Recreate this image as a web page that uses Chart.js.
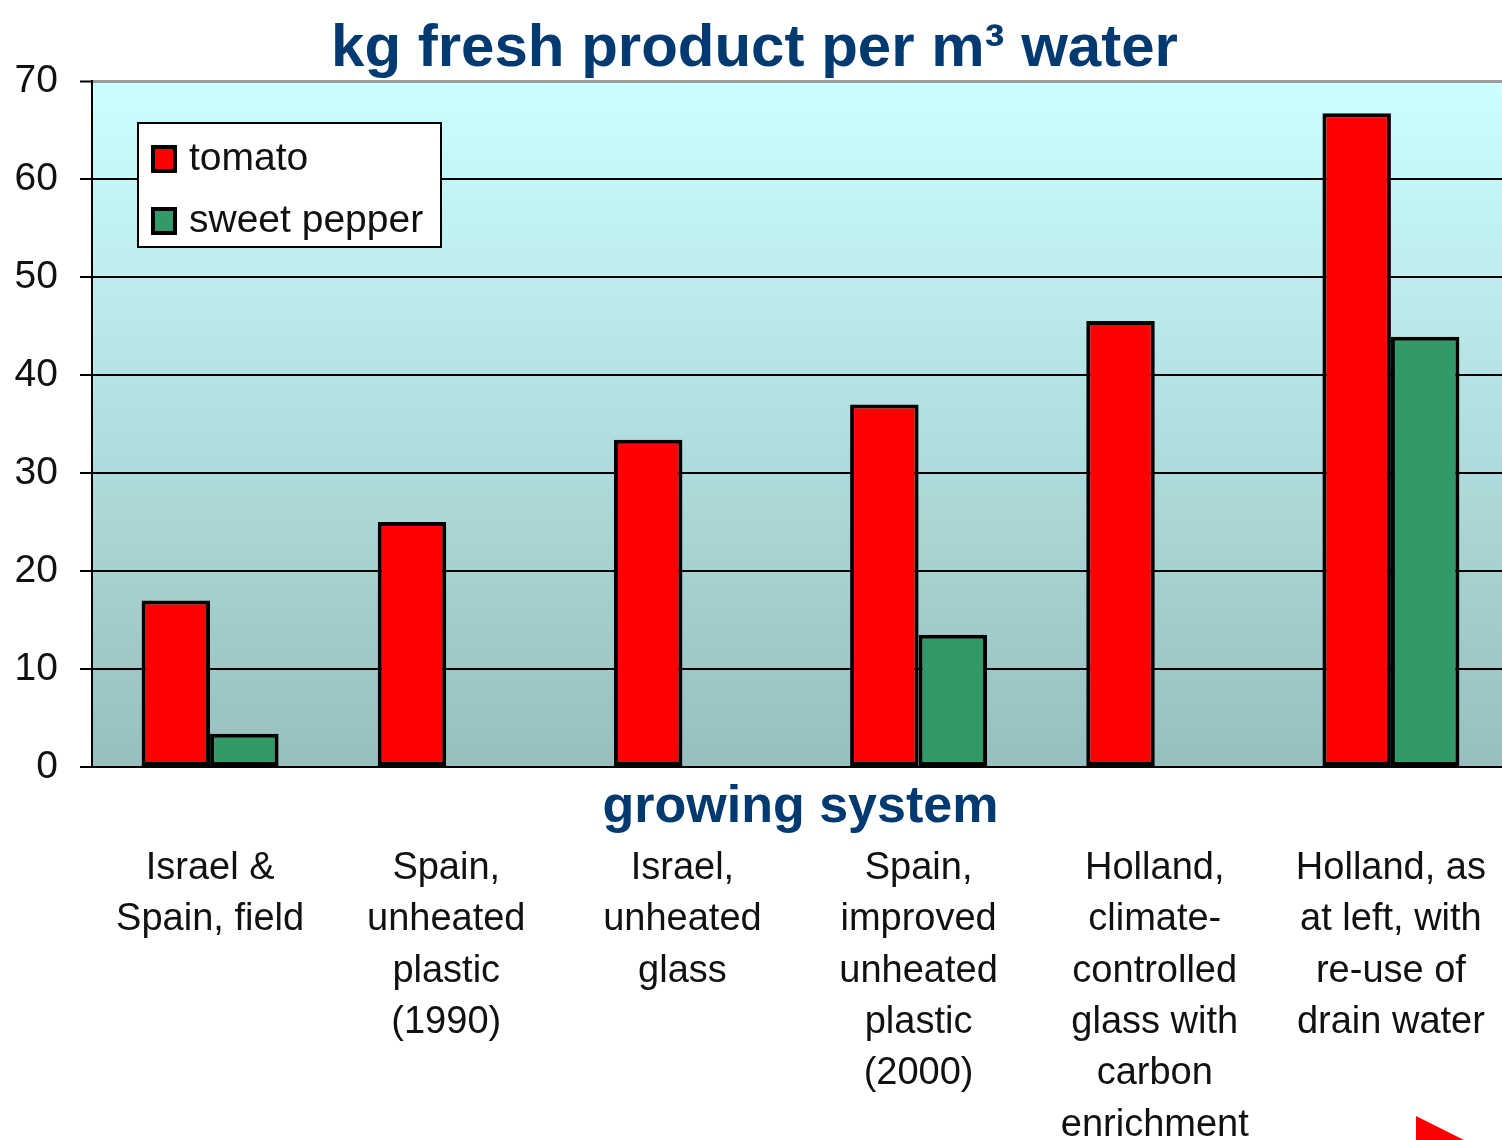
<!DOCTYPE html>
<html>
<head>
<meta charset="utf-8">
<script src="https://cdn.jsdelivr.net/npm/chart.js@4"></script>
<style>
  html, body { margin: 0; padding: 0; background: #ffffff; overflow: hidden; }
  #wrap { width: 1510px; height: 1140px; }
</style>
</head>
<body>
<div id="wrap"><canvas id="c" width="1510" height="1140"></canvas></div>
<script>
const chartTitle = 'kg fresh product per m\u00B3 water';
const xAxisTitle = 'growing system';
const categories = [
  ['Israel &', 'Spain, field'],
  ['Spain,', 'unheated', 'plastic', '(1990)'],
  ['Israel,', 'unheated', 'glass'],
  ['Spain,', 'improved', 'unheated', 'plastic', '(2000)'],
  ['Holland,', 'climate-', 'controlled', 'glass with', 'carbon', 'enrichment'],
  ['Holland, as', 'at left, with', 're-use of', 'drain water']
];
const seriesNames = ['tomato', 'sweet pepper'];
const tomato = [17, 25, 33.4, 37, 45.5, 66.7];
const sweetPepper = [3.4, null, null, 13.5, null, 43.9];
const yTicks = [0, 10, 20, 30, 40, 50, 60, 70];

const FONT = '"Liberation Sans", Arial, sans-serif';
const NAVY = '#003a70';
const RED = '#ff0000';
const GREEN = '#339966';

const bgPlugin = {
  id: 'bg',
  beforeDraw(chart) {
    const { ctx, chartArea: a } = chart;
    const g = ctx.createLinearGradient(0, a.top, 0, a.bottom);
    g.addColorStop(0, '#ccffff');
    g.addColorStop(1, '#97bfbf');
    ctx.save();
    ctx.fillStyle = g;
    ctx.fillRect(a.left, a.top, a.right - a.left, a.bottom - a.top);
    ctx.restore();
  }
};

const extrasPlugin = {
  id: 'extras',
  afterDraw(chart) {
    const { ctx, chartArea: a } = chart;
    ctx.save();
    // x-axis title (placed between plot and category labels)
    ctx.fillStyle = NAVY;
    ctx.font = 'bold 52px ' + FONT;
    ctx.textAlign = 'center';
    ctx.textBaseline = 'alphabetic';
    ctx.fillText(xAxisTitle, (a.left + a.right) / 2, a.bottom + 55);

    // legend box inside plot area
    const lx = a.left + 46, ly = a.top + 42, lw = 303, lh = 124;
    ctx.fillStyle = '#ffffff';
    ctx.fillRect(lx, ly, lw, lh);
    ctx.strokeStyle = '#000000';
    ctx.lineWidth = 2;
    ctx.strokeRect(lx, ly, lw, lh);
    const ds = chart.data.datasets;
    const rowY = [ly + 36, ly + 98];
    ctx.font = '39px ' + FONT;
    ctx.textAlign = 'left';
    ctx.textBaseline = 'middle';
    ds.forEach((d, i) => {
      const cy = rowY[i];
      ctx.fillStyle = '#000';
      ctx.fillRect(lx + 13, cy - 14, 26, 28);
      ctx.fillStyle = d.backgroundColor;
      ctx.fillRect(lx + 17, cy - 10, 18, 20);
      ctx.fillStyle = '#111';
      ctx.fillText(d.label, lx + 51, cy);
    });

    // red navigation triangle (slide decoration)
    ctx.fillStyle = RED;
    ctx.beginPath();
    ctx.moveTo(1416, 1116);
    ctx.lineTo(1470, 1143);
    ctx.lineTo(1416, 1170);
    ctx.closePath();
    ctx.fill();
    ctx.restore();
  }
};

new Chart(document.getElementById('c'), {
  type: 'bar',
  data: {
    labels: categories,
    datasets: [
      { label: seriesNames[0], data: tomato, backgroundColor: RED, borderColor: '#000', borderWidth: 4, borderSkipped: false },
      { label: seriesNames[1], data: sweetPepper, backgroundColor: GREEN, borderColor: '#000', borderWidth: 4, borderSkipped: false }
    ]
  },
  options: {
    responsive: false,
    animation: false,
    devicePixelRatio: 1,
    layout: { padding: { left: 0, right: 1, top: 0, bottom: 0 } },
    datasets: { bar: { categoryPercentage: 0.58, barPercentage: 1.0 } },
    plugins: {
      legend: { display: false },
      tooltip: { enabled: false },
      title: {
        display: true,
        text: chartTitle,
        color: NAVY,
        font: { family: FONT, size: 60, weight: 'bold', lineHeight: 1.0 },
        padding: { top: 19, bottom: 2 }
      }
    },
    scales: {
      x: {
        grid: { display: false, drawTicks: true, tickLength: 76, tickColor: 'rgba(0,0,0,0)' },
        border: { display: true, color: '#000', width: 2 },
        ticks: {
          autoSkip: false,
          maxRotation: 0,
          minRotation: 0,
          padding: 0,
          color: '#111',
          font: { family: FONT, size: 38, lineHeight: 1.35 }
        },
        afterFit(scale) { scale.height = 373; }
      },
      y: {
        min: 0,
        max: 70,
        afterBuildTicks(scale) { scale.ticks = yTicks.map(v => ({ value: v })); },
        grid: {
          color: (c) => (c.tick && c.tick.value === 70) ? '#9c9c9c' : '#000',
          lineWidth: (c) => (c.tick && c.tick.value === 70) ? 3 : 2,
          tickColor: '#000',
          tickLength: 12,
          tickWidth: 2
        },
        border: { display: true, color: '#000', width: 2 },
        ticks: {
          padding: 22,
          color: '#111',
          font: { family: FONT, size: 39 }
        },
        afterFit(scale) { scale.width = 92; }
      }
    }
  },
  plugins: [bgPlugin, extrasPlugin]
});
</script>
</body>
</html>
